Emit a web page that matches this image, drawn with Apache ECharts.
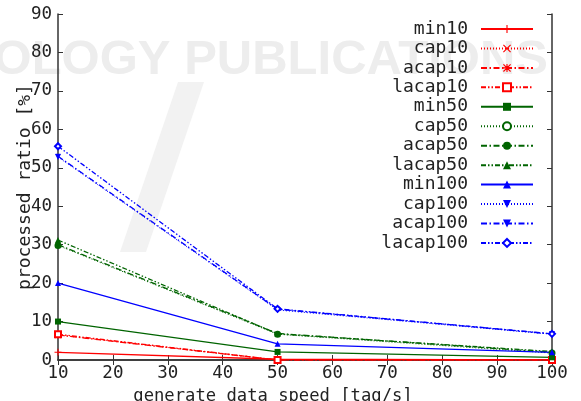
<!DOCTYPE html>
<html>
<head>
<meta charset="utf-8">
<script src="https://cdn.jsdelivr.net/npm/echarts@6/dist/echarts.min.js"></script>
<style>
  html, body { margin: 0; padding: 0; background: #fff; }
  #chart { width: 581px; height: 401px; }
</style>
</head>
<body>
<div id="chart"></div>
<script>
// Generate data speed [tag/s]
const speeds = [10, 50, 100];

// Processed ratio [%] per scheme
const min10    = [2.0, 0.2, 0.0];
const cap10    = [6.5, 0.0, 0.0];
const acap10   = [6.5, 0.0, 0.0];
const lacap10  = [6.7, 0.0, 0.0];
const min50    = [10.0, 2.1, 0.7];
const cap50    = [29.8, 6.7, 1.8];
const acap50   = [30.0, 6.9, 2.0];
const lacap50  = [31.2, 6.8, 2.2];
const min100   = [20.0, 4.2, 2.0];
const cap100   = [52.8, 13.0, 6.7];
const acap100  = [53.0, 13.2, 6.8];
const lacap100 = [55.6, 13.3, 6.8];

const xTicks = [10, 20, 30, 40, 50, 60, 70, 80, 90, 100];
const yTicks = [0, 10, 20, 30, 40, 50, 60, 70, 80, 90];

const RED = '#ff0000', GREEN = '#006400', BLUE = '#0000ff';
const FONT = 'DejaVu Sans Mono';

// marker shapes
const PLUS  = 'path://M0,4.3L10,4.3L10,5.7L0,5.7Z M4.3,0L5.7,0L5.7,10L4.3,10Z';
const CROSS = 'path://M1,0L5,4L9,0L10,1L6,5L10,9L9,10L5,6L1,10L0,9L4,5L0,1Z';
const STAR  = 'path://M0,4.3L10,4.3L10,5.7L0,5.7Z M4.3,0L5.7,0L5.7,10L4.3,10Z M1,0L5,4L9,0L10,1L6,5L10,9L9,10L5,6L1,10L0,9L4,5L0,1Z';
const DOWN  = 'path://M0,0L10,0L5,9Z';

const DOT = [1, 2];
const DASHDOT = [6, 2.5, 1.5, 2.5];
const DASHDOTDOT = [5, 2, 1.5, 2, 1.5, 2];

function mk(name, values, color, dash, symbol, size, width) {
  return {
    name: name,
    type: 'line',
    data: speeds.map((s, i) => [s, values[i]]),
    symbol: symbol,
    symbolSize: size,
    showAllSymbol: true,
    lineStyle: { color: color, width: width || 1.3, type: dash },
    itemStyle: { color: color, borderColor: color, borderWidth: symbol.indexOf('empty') === 0 ? 1.2 : 0 },
    emphasis: { disabled: true },
    animation: false
  };
}

const series = [
  mk('min10',    min10,    RED,   'solid',    PLUS,  7),
  mk('cap10',    cap10,    RED,   DOT,        CROSS, 6, 1),
  mk('acap10',   acap10,   RED,   DASHDOT,    STAR,  7),
  mk('lacap10',  lacap10,  RED,   DASHDOTDOT, 'emptyRect', 6),
  mk('min50',    min50,    GREEN, 'solid',    'rect', 6),
  mk('cap50',    cap50,    GREEN, DOT,        'emptyCircle', 5, 1),
  mk('acap50',   acap50,   GREEN, DASHDOT,    'circle', 5),
  mk('lacap50',  lacap50,  GREEN, DASHDOTDOT, 'triangle', 6),
  mk('min100',   min100,   BLUE,  'solid',    'triangle', 6),
  mk('cap100',   cap100,   BLUE,  DOT,        DOWN, 6, 1),
  mk('acap100',  acap100,  BLUE,  DASHDOT,    DOWN, 5),
  mk('lacap100', lacap100, BLUE,  DASHDOTDOT, 'emptyDiamond', 6)
];

// secondary axes carry the mirrored inward ticks on the top and right
const axisLine = { show: true, lineStyle: { color: '#333', width: 1.5 } };
const tick = { show: true, inside: true, length: 5, lineStyle: { color: '#333', width: 1 } };

const chart = echarts.init(document.getElementById('chart'), null, { renderer: 'canvas' });
chart.setOption({
  animation: false,
  backgroundColor: '#fff',
  graphic: [
    {
      type: 'polygon', z: -10, silent: true,
      shape: { points: [[178, 82], [204, 82], [146, 252], [120, 252]] },
      style: { fill: '#f2f2f2' }
    },
    {
      type: 'text', z: -10, silent: true,
      style: {
        text: 'TECHNOLOGY PUBLICATIONS',
        x: 548, y: 60, align: 'right', verticalAlign: 'middle',
        font: 'bold 49px "Liberation Sans"', fill: '#ededed'
      }
    }
  ],
  grid: { left: 58, right: 29, top: 14, bottom: 41, containLabel: false, outerBoundsMode: 'none' },
  legend: {
    orient: 'vertical',
    right: 42,
    top: 15,
    align: 'right',
    itemWidth: 52,
    itemHeight: 10,
    itemGap: 1.45,
    textStyle: { fontFamily: FONT, fontSize: 18, color: '#222', padding: [0, 8, 0, 0] },
    data: series.map(s => s.name),
    selectedMode: false
  },
  xAxis: [
    {
      type: 'value', min: xTicks[0], max: xTicks[xTicks.length - 1], interval: 10,
      name: 'generate data speed [tag/s]', nameLocation: 'middle', nameGap: 28,
      nameMoveOverlap: false,
      nameTextStyle: { fontFamily: FONT, fontSize: 17.2, color: '#222', padding: [0, 64, 0, 0] },
      axisLine: axisLine, axisTick: tick,
      axisLabel: { fontFamily: FONT, fontSize: 17.5, color: '#222', margin: 4 },
      splitLine: { show: false }
    },
    {
      type: 'value', position: 'top', min: xTicks[0], max: xTicks[xTicks.length - 1], interval: 10,
      axisLine: axisLine, axisTick: tick,
      axisLabel: { show: false },
      splitLine: { show: false }
    }
  ],
  yAxis: [
    {
      type: 'value', min: yTicks[0], max: yTicks[yTicks.length - 1], interval: 10,
      name: 'processed ratio [%]', nameLocation: 'middle', nameGap: 24, nameRotate: 90,
      nameMoveOverlap: false,
      nameTextStyle: { fontFamily: FONT, fontSize: 18, color: '#222' },
      axisLine: axisLine, axisTick: tick,
      axisLabel: { fontFamily: FONT, fontSize: 17.5, color: '#222', margin: 6 },
      splitLine: { show: false }
    },
    {
      type: 'value', position: 'right', min: yTicks[0], max: yTicks[yTicks.length - 1], interval: 10,
      axisLine: axisLine, axisTick: tick,
      axisLabel: { show: false },
      splitLine: { show: false }
    }
  ],
  series: series
});
</script>
</body>
</html>
